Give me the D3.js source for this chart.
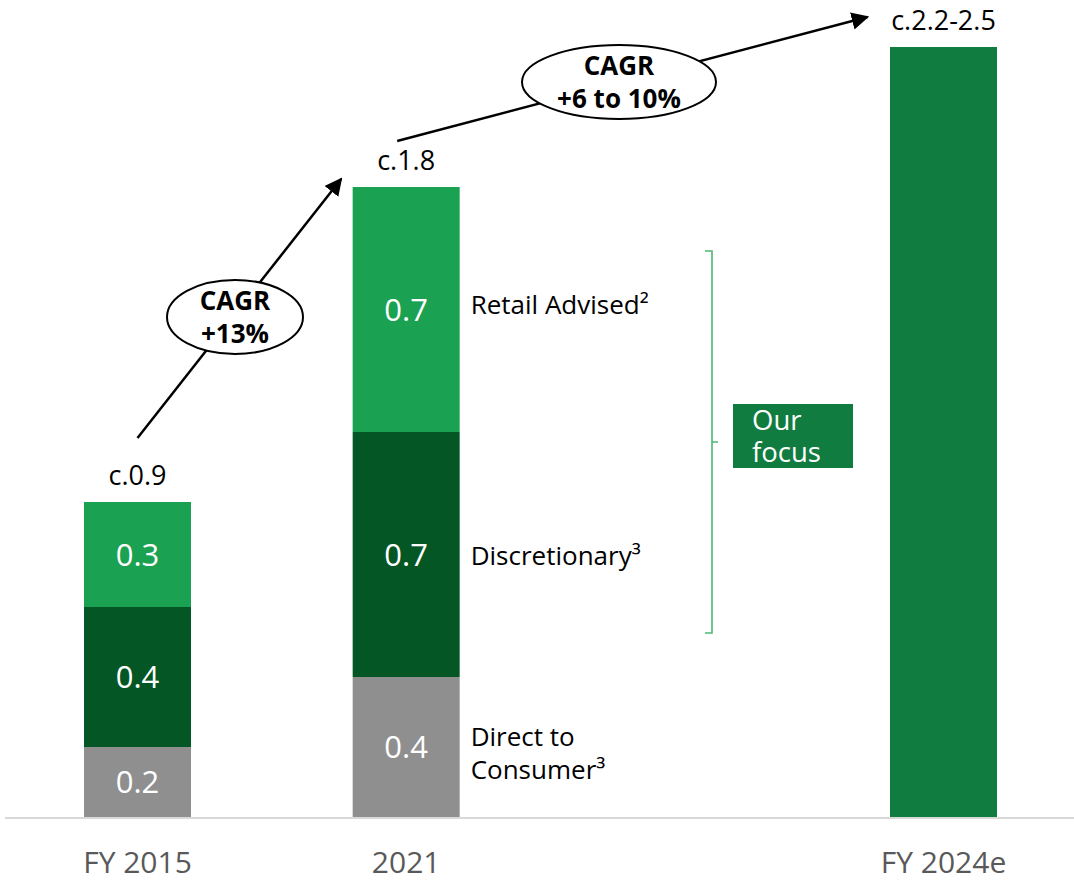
<!DOCTYPE html>
<html>
<head>
<meta charset="utf-8">
<script src="https://cdn.jsdelivr.net/npm/d3@7"></script>
<style>
  body { margin: 0; background: #fff; }
  svg { display: block; font-family: "Open Sans", sans-serif; }
</style>
</head>
<body>
<div id="chart"></div>
<script>
// data
const years = ["FY 2015", "2021", "gap", "FY 2024e"];
const retailAdvised = [0.3, 0.7, 0, 0];
const discretionary = [0.4, 0.7, 0, 0];
const directToConsumer = [0.2, 0.4, 0, 0];
const forecast = [0, 0, 0, 2.2];
const totalLabels = ["c.0.9", "c.1.8", "", "c.2.2-2.5"];
const segmentNames = [["Retail Advised²"], ["Discretionary³"], ["Direct to", "Consumer³"]];
const cagrLabels = [["CAGR", "+13%"], ["CAGR", "+6 to 10%"]];

const width = 1074;
const height = 881;
const baseline = 817;
const barW = 107;

const svg = d3.select("#chart").append("svg")
    .attr("width", width)
    .attr("height", height);

const x = d3.scalePoint(years, [137.5, 943.5]);
const y = d3.scaleLinear([0, 2.2], [baseline, 47]);

// stacked segments, bottom up
const stackRows = years.map((yr, i) => ({
    year: yr,
    dtc: directToConsumer[i],
    disc: discretionary[i],
    retail: retailAdvised[i],
    fc: forecast[i]
}));
const keys = ["dtc", "disc", "retail", "fc"];
const colors = {dtc: "#8f8f8f", disc: "#045624", retail: "#1aa152", fc: "#117c3f"};
const series = d3.stack().keys(keys)(stackRows);

series.forEach(s => {
    svg.append("g").selectAll("rect")
        .data(s.filter(d => d[1] > d[0]))
        .join("rect")
        .attr("x", d => x(d.data.year) - barW / 2)
        .attr("width", barW)
        .attr("y", d => y(d[1]))
        .attr("height", d => y(d[0]) - y(d[1]))
        .attr("fill", colors[s.key]);

    if (s.key !== "fc") {
        svg.append("g").selectAll("text")
            .data(s.filter(d => d[1] > d[0]))
            .join("text")
            .attr("x", d => x(d.data.year))
            .attr("y", d => (y(d[0]) + y(d[1])) / 2)
            .attr("dy", "0.36em")
            .attr("text-anchor", "middle")
            .attr("fill", "#fff")
            .attr("font-size", 31)
            .text(d => d3.format(".1f")(d[1] - d[0]));
    }
});

// baseline
svg.append("line")
    .attr("x1", 5).attr("x2", width)
    .attr("y1", baseline + 1).attr("y2", baseline + 1)
    .attr("stroke", "#d9d9d9")
    .attr("stroke-width", 2);

// category axis labels
svg.append("g").selectAll("text")
    .data(years.filter(d => d !== "gap"))
    .join("text")
    .attr("x", d => x(d))
    .attr("y", 862)
    .attr("dy", "0.36em")
    .attr("text-anchor", "middle")
    .attr("fill", "#595959")
    .attr("font-size", 30)
    .text(d => d);

// totals above bars
const totals = years.map((yr, i) => retailAdvised[i] + discretionary[i] + directToConsumer[i] + forecast[i]);
svg.append("g").selectAll("text")
    .data(years.map((yr, i) => ({yr, t: totals[i], label: totalLabels[i]})).filter(d => d.label))
    .join("text")
    .attr("x", d => x(d.yr))
    .attr("y", d => y(d.t) - 27)
    .attr("dy", "0.36em")
    .attr("text-anchor", "middle")
    .attr("fill", "#000")
    .attr("font-size", 27)
    .text(d => d.label);

// segment names to the right of the 2021 bar
const x21 = x("2021") + barW / 2 + 11;
const segMid = [
    (y(directToConsumer[1] + discretionary[1]) + y(totals[1])) / 2 - 5,
    (y(directToConsumer[1]) + y(directToConsumer[1] + discretionary[1])) / 2 + 1,
    (y(0) + y(directToConsumer[1])) / 2 + 6
];
segmentNames.forEach((lines, i) => {
    const t = svg.append("text")
        .attr("x", x21)
        .attr("y", segMid[i] - (lines.length - 1) * 16.5)
        .attr("font-size", 26)
        .attr("fill", "#000");
    lines.forEach((ln, j) => {
        t.append("tspan")
            .attr("x", x21)
            .attr("dy", j === 0 ? "0.36em" : 33)
            .text(ln);
    });
});

// bracket and "Our focus" box
const bx = 712;
const bTop = 251, bBot = 633, bMid = 442;
svg.append("path")
    .attr("d", `M${bx - 7},${bTop} H${bx} V${bBot} H${bx - 7} M${bx},${bMid} H${bx + 6}`)
    .attr("fill", "none")
    .attr("stroke", "#4cb873")
    .attr("stroke-width", 1.6);

svg.append("rect")
    .attr("x", 733).attr("y", 404)
    .attr("width", 120).attr("height", 64)
    .attr("fill", "#117c3f");
svg.append("text")
    .attr("fill", "#fff")
    .attr("font-size", 27.5)
    .selectAll("tspan")
    .data(["Our", "focus"])
    .join("tspan")
    .attr("x", 752)
    .attr("y", (d, i) => 420 + i * 32)
    .attr("dy", "0.36em")
    .text(d => d);

// CAGR arrows
svg.append("defs").append("marker")
    .attr("id", "arrowHead")
    .attr("viewBox", "0 0 10 10")
    .attr("refX", 9).attr("refY", 5)
    .attr("markerWidth", 7).attr("markerHeight", 7)
    .attr("markerUnits", "strokeWidth")
    .attr("orient", "auto")
    .append("path")
    .attr("d", "M0,0 L10,5 L0,10 z")
    .attr("fill", "#000");

const arrows = [
    {x1: x("FY 2015"), y1: y(totals[0]) - 64, x2: x("2021") - 65, y2: y(totals[1]) - 8,
     cx: 235, cy: 317, rx: 68, ry: 37, lines: cagrLabels[0]},
    {x1: x("2021") - 9, y1: y(totals[1]) - 46, x2: x("FY 2024e") - 76, y2: 17,
     cx: 619, cy: 82, rx: 97, ry: 37, lines: cagrLabels[1]}
];
arrows.forEach(a => {
    svg.append("line")
        .attr("x1", a.x1).attr("y1", a.y1)
        .attr("x2", a.x2).attr("y2", a.y2)
        .attr("stroke", "#000")
        .attr("stroke-width", 2.5)
        .attr("marker-end", "url(#arrowHead)");
    svg.append("ellipse")
        .attr("cx", a.cx).attr("cy", a.cy)
        .attr("rx", a.rx).attr("ry", a.ry)
        .attr("fill", "#fff")
        .attr("stroke", "#000")
        .attr("stroke-width", 2);
    svg.append("text")
        .attr("font-size", 26)
        .attr("font-weight", "bold")
        .attr("text-anchor", "middle")
        .selectAll("tspan")
        .data(a.lines)
        .join("tspan")
        .attr("x", a.cx)
        .attr("y", (d, i) => a.cy - 16 + i * 33)
        .attr("dy", "0.36em")
        .text(d => d);
});
</script>
</body>
</html>
